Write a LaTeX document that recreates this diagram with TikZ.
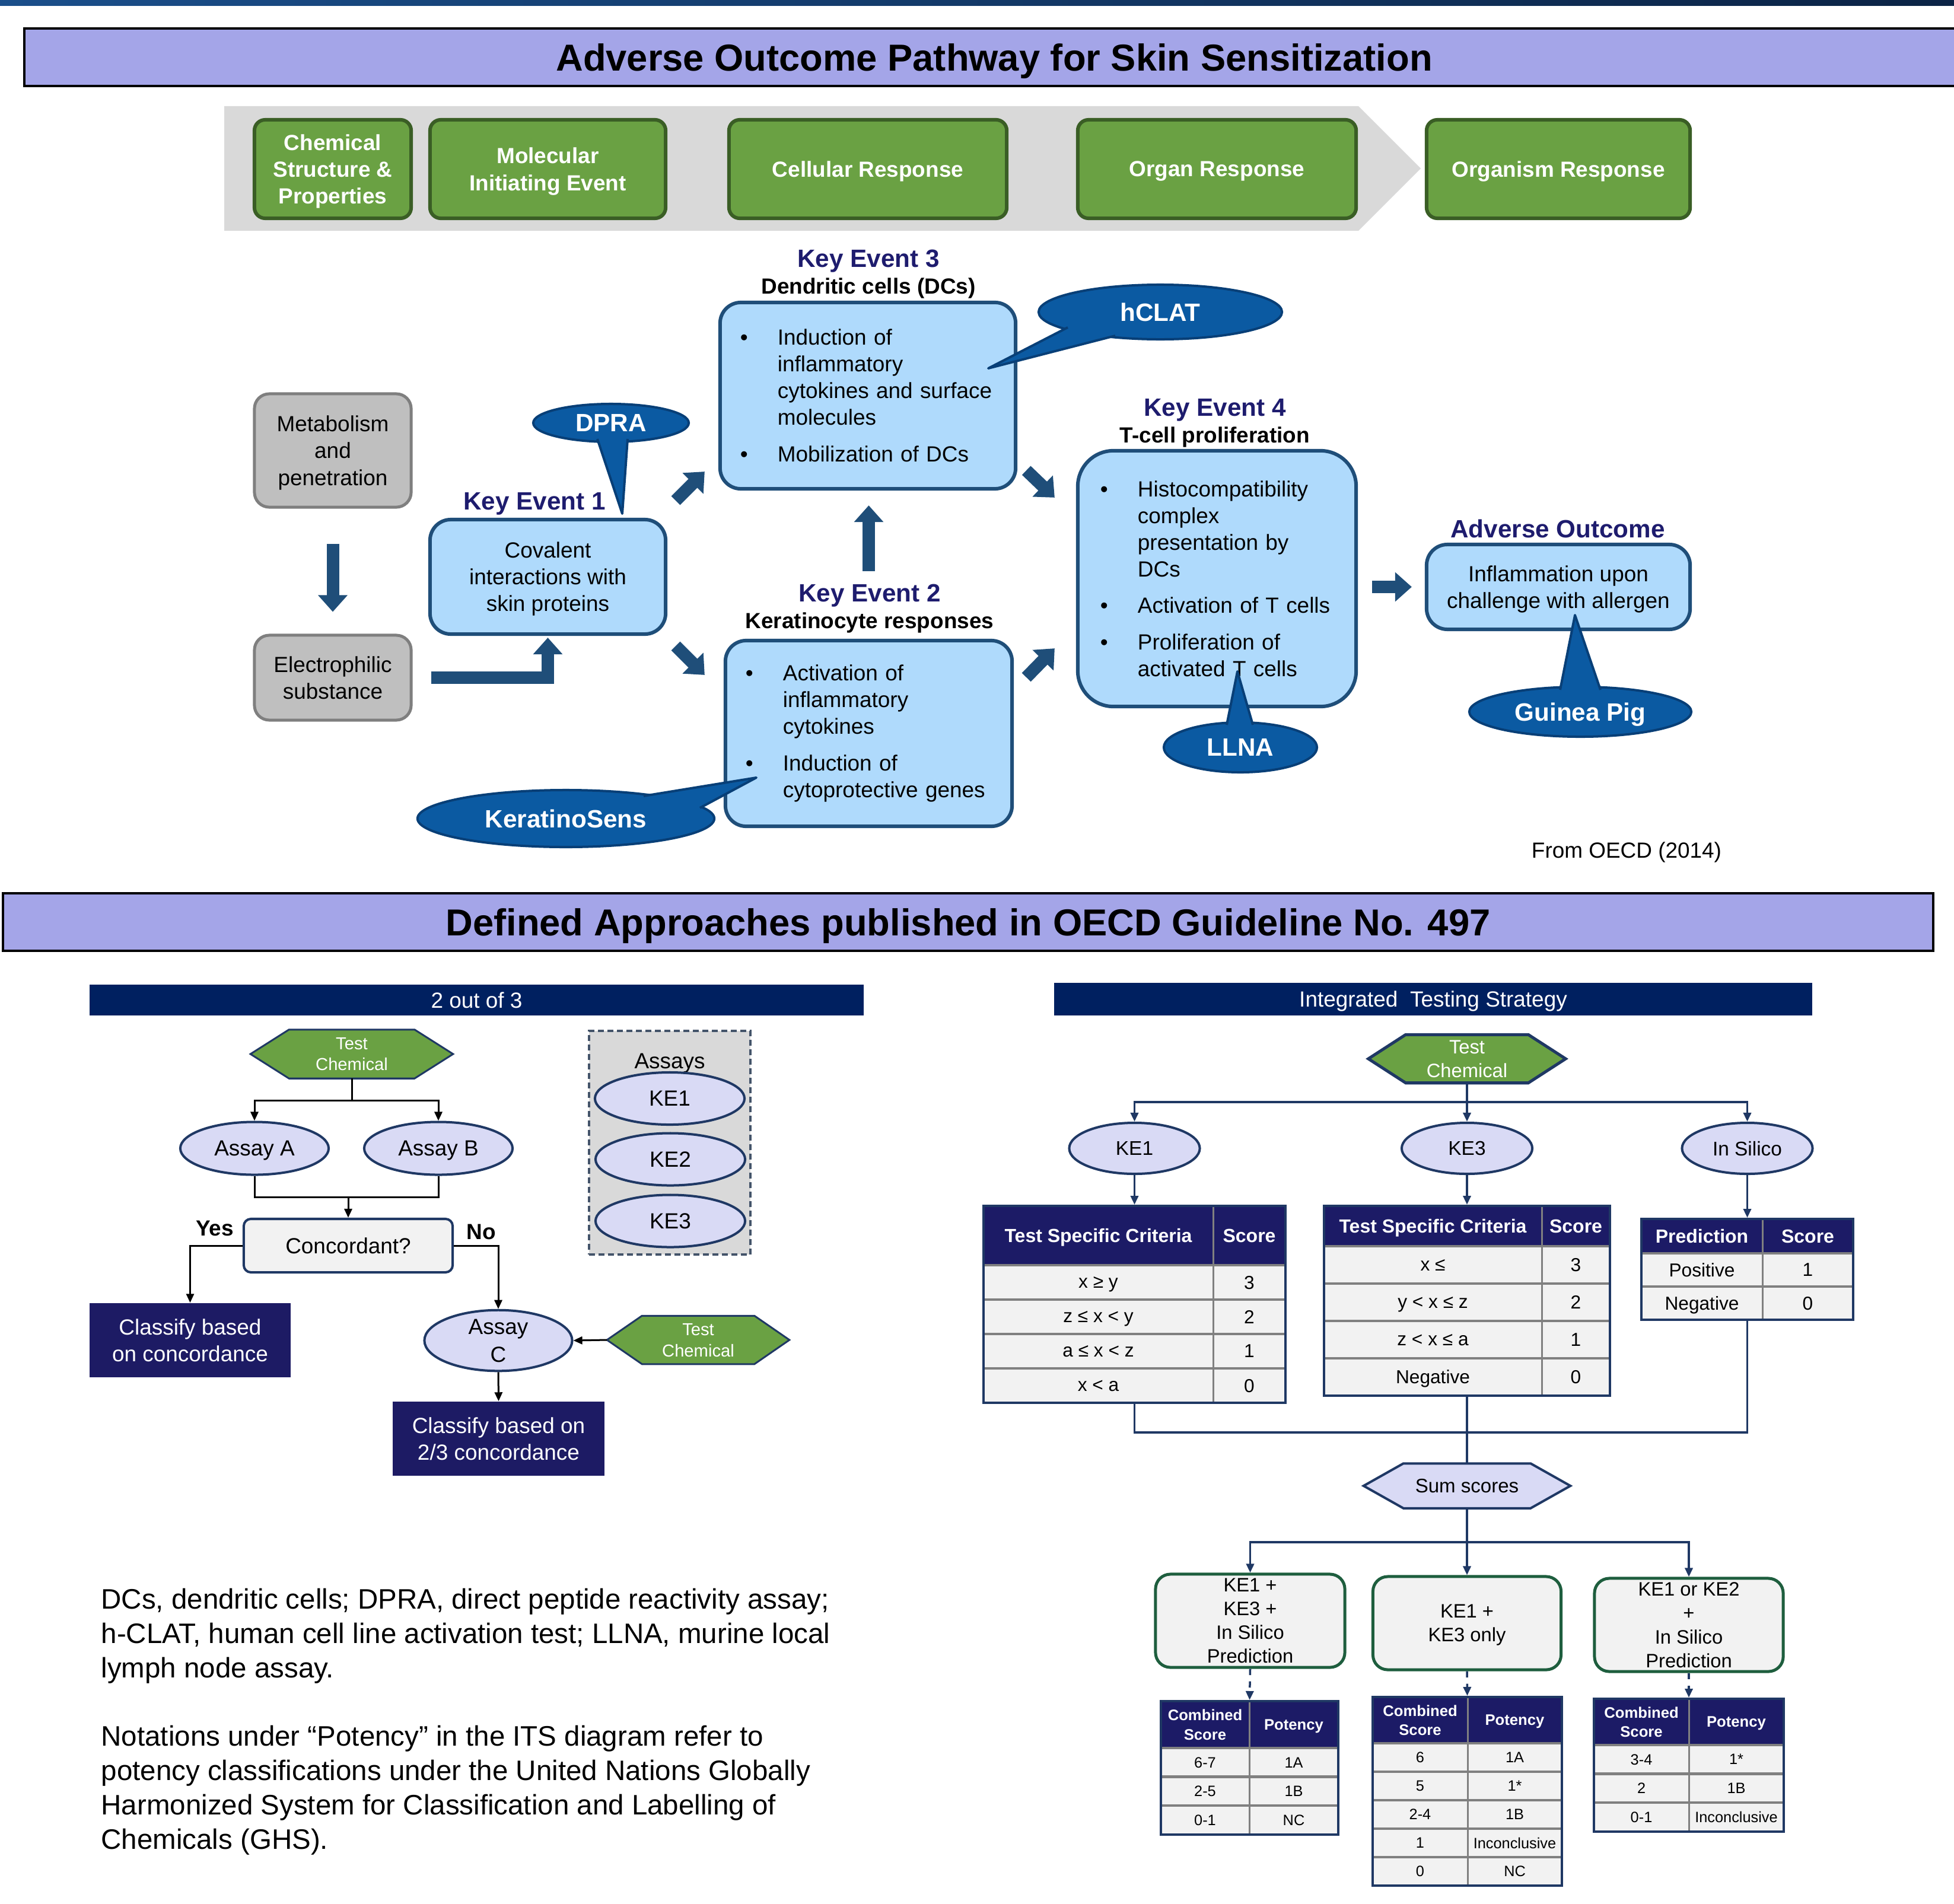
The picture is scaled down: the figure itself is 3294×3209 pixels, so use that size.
\documentclass[tikz,border=0pt]{standalone}
\usepackage{fontspec}
\setmainfont{Liberation Sans}
\usetikzlibrary{shapes.geometric,arrows.meta,backgrounds,calc,fit}
\definecolor{bannerc}{HTML}{A4A5E8}
\definecolor{gfill}{HTML}{6AA143}
\definecolor{gdark}{HTML}{3A5E25}
\definecolor{chev}{HTML}{D9D9D9}
\definecolor{ggray}{HTML}{BFBFBF}
\definecolor{gborder}{HTML}{7F7F7F}
\definecolor{bfill}{HTML}{AFDAFC}
\definecolor{bborder}{HTML}{1F4E79}
\definecolor{ketext}{HTML}{1E1C6E}
\definecolor{barrowc}{HTML}{1F4E79}
\definecolor{cfill}{HTML}{0B5AA2}
\definecolor{cborder}{HTML}{083F77}
\definecolor{hdrnavy}{HTML}{002060}
\definecolor{clsc}{HTML}{1D1B64}
\definecolor{lav}{HTML}{D9DAF5}
\definecolor{navyline}{HTML}{1F3864}
\definecolor{rowgray}{HTML}{F2F2F2}
\definecolor{sepgray}{HTML}{808080}
\definecolor{theadc}{HTML}{1C1B66}
\definecolor{boxgreen}{HTML}{1E5E3E}
\definecolor{dashc}{HTML}{44546A}
\definecolor{stripL}{HTML}{1A4E8A}
\definecolor{stripR}{HTML}{0B2345}
\newcommand\mybul{\makebox[0.63cm][l]{\textbullet}}
\newcommand\myind{\hspace*{0.63cm}}
\newcommand\myhex[3]{\filldraw[#3] (#1.west) -- ($(#1.north west)+(#2,0)$) -- ($(#1.north east)+(-#2,0)$) -- (#1.east) -- ($(#1.south east)+(-#2,0)$) -- ($(#1.south west)+(#2,0)$) -- cycle;}
\newcommand\mytab[8]{%
  \fill[rowgray] (#2,#6) rectangle (#4,#7);
  \fill[theadc] (#2,#5) rectangle (#4,#6);
  \foreach \yy in {#8} \draw[sepgray, line width=0.045cm] (#2,\yy) -- (#4,\yy);
  \draw[sepgray, line width=0.03cm] (#3,#5) -- (#3,#7);
  \node[fit={(#2,#5) (#4,#7)}, inner sep=0pt, draw=navyline, line width=0.04cm] (#1) {};
}
\tikzset{
  every node/.append style={text depth=0pt},
  banner/.style={draw=black, line width=0.035cm, fill=bannerc, inner sep=0pt, font=\fontsize{18}{22}\selectfont\bfseries},
  gbox/.style={draw=gdark, line width=0.06cm, fill=gfill, rounded corners=0.18cm, text=white, font=\fontsize{10.5}{12.9}\selectfont\bfseries, align=center, inner sep=0pt, minimum height=1.66cm},
  graybox/.style={draw=gborder, line width=0.05cm, fill=ggray, rounded corners=0.25cm, align=center, inner sep=0pt, minimum width=2.64cm, font=\fontsize{10.5}{12.9}\selectfont},
  bbox/.style={draw=bborder, line width=0.06cm, fill=bfill, rounded corners=0.35cm, inner sep=0pt},
  ketitle/.style={text=ketext, font=\fontsize{12}{14}\selectfont\bfseries},
  kesub/.style={font=\fontsize{10.5}{12}\selectfont\bfseries},
  barrow/.style={draw=barrowc, line width=0.21cm, -{Triangle[length=0.28cm,width=0.48cm]}},
  callout/.style={ellipse, draw=cborder, line width=0.04cm, fill=cfill, text=white, font=\fontsize{12}{14}\selectfont\bfseries, inner sep=0pt},
  tail/.style={fill=cfill, draw=cborder, line width=0.04cm, line join=round},
  hdr/.style={fill=hdrnavy, text=white, inner sep=0pt, font=\fontsize{10.5}{12}\selectfont},
  lavell/.style={ellipse, fill=lav, draw=navyline, line width=0.04cm, inner sep=0pt},
  clsbox/.style={fill=clsc, text=white, inner sep=0pt, align=center, font=\fontsize{10.5}{13}\selectfont},
  bconn/.style={draw=black, line width=0.03cm, -{Triangle[length=0.15cm,width=0.13cm]}},
  bline/.style={draw=black, line width=0.03cm},
  nconn/.style={draw=navyline, line width=0.035cm, -{Triangle[length=0.15cm,width=0.13cm]}},
  nline/.style={draw=navyline, line width=0.035cm},
  th/.style={text=white, font=\fontsize{9.1}{11}\selectfont\bfseries, inner sep=0pt, align=center},
  td/.style={font=\fontsize{9}{11}\selectfont, inner sep=0pt},
  ph/.style={text=white, font=\fontsize{7.3}{9.2}\selectfont\bfseries, inner sep=0pt, align=center},
  pd/.style={font=\fontsize{7.2}{9}\selectfont, inner sep=0pt},
  itsbox/.style={draw=boxgreen, line width=0.05cm, fill=rowgray, rounded corners=0.25cm, align=center, inner sep=0pt, font=\fontsize{9.3}{11.4}\selectfont, minimum height=1.57cm},
}
\begin{document}
\begin{tikzpicture}[x=0.01cm,y=-0.01cm, font=\fontsize{10.5}{12.8}\selectfont]
\useasboundingbox (0,0) rectangle (3294,3209);
\begin{scope}[on background layer]
  \fill[white] (0,0) rectangle (3294,3209);
\end{scope}
% top strip
\shade[left color=stripL, right color=stripR] (0,0) rectangle (3294,10);
% title banner 1
\node[banner, minimum width=32.68cm, minimum height=0.97cm] (title1) at (1676,96.5) {Adverse Outcome Pathway for Skin Sensitization};
% chevron band
\fill[chev] (378,179) -- (2290,179) -- (2395,284) -- (2290,389) -- (378,389) -- cycle;
\node[gbox, minimum width=2.64cm] (g1) at (561,285) {Chemical\\Structure \&\\Properties};
\node[gbox, minimum width=3.97cm] (g2) at (923.5,285) {Molecular\\Initiating Event};
\node[gbox, minimum width=4.68cm] (g3) at (1463,285) {Cellular Response};
\node[gbox, minimum width=4.69cm] (g4) at (2051.5,285) {Organ Response};
\node[gbox, minimum width=4.44cm] (g5) at (2627,285) {Organism Response};
% gray boxes
\node[graybox, minimum height=1.91cm] (meta) at (561,759.5) {Metabolism\\and\\penetration};
\node[graybox, minimum height=1.43cm] (elec) at (561,1142.5) {Electrophilic\\substance};
% blue boxes
\node[bbox, minimum width=3.97cm, minimum height=1.93cm, align=center] (ke1) at (923.5,972.5) {Covalent\\interactions with\\skin proteins};
\node[bbox, minimum width=4.98cm, minimum height=3.14cm, align=left, text width=4.30cm, text depth={}] (ke3) at (1463,667) {\mybul Induction of\\\myind inflammatory\\\myind cytokines and surface\\\myind molecules\\[4.7pt]\mybul Mobilization of DCs};
\node[bbox, minimum width=4.83cm, minimum height=3.13cm, align=left, text width=4.15cm, text depth={}] (ke2) at (1464.5,1236.5) {\mybul Activation of\\\myind inflammatory\\\myind cytokines\\[4.7pt]\mybul Induction of\\\myind cytoprotective genes};
\node[bbox, rounded corners=0.6cm, minimum width=4.69cm, minimum height=4.31cm, align=left, text width=3.93cm, text depth={}] (ke4) at (2051.5,975.5) {\mybul Histocompatibility\\\myind complex\\\myind presentation by\\\myind DCs\\[4.7pt]\mybul Activation of T cells\\[4.7pt]\mybul Proliferation of\\\myind activated T cells};
\node[bbox, minimum width=4.44cm, minimum height=1.43cm, align=center] (ao) at (2627,989.5) {Inflammation upon\\challenge with allergen};
% titles
\node[ketitle] (ke1t) at (901,845) {Key Event 1};
\node[ketitle] (ke3t) at (1464,436) {Key Event 3};
\node[kesub] (ke3s) at (1464,482) {Dendritic cells (DCs)};
\node[ketitle] (ke2t) at (1466,1000) {Key Event 2};
\node[kesub] (ke2s) at (1466,1046) {Keratinocyte responses};
\node[ketitle] (ke4t) at (2048,687) {Key Event 4};
\node[kesub] (ke4s) at (2048,733) {T-cell proliferation};
\node[ketitle] (aot) at (2626,891) {Adverse Outcome};
% block arrows
\draw[barrow] ($(meta.south)+(0,59)$) -- ($(elec.north)+(0,-37)$);
\draw[barrow] ($(elec.east)+(31,0)$) -| ($(ke1.south)+(0,3)$);
\draw[barrow] ($(ke1.north east)+(14,-29)$) -- ($(ke3.south west)+(-23,-32)$);
\draw[barrow] ($(ke1.south east)+(14,17)$) -- ($(ke2.north west)+(-32,61)$);
\draw[barrow] ($(ke3.south east)+(15,-34)$) -- ($(ke4.north west)+(-36,82)$);
\draw[barrow] ($(ke2.north east)+(21,65)$) -- ($(ke4.south west)+(-36,-101)$);
\draw[barrow] ($(ke2.north)+(0,-114)$) -- ($(ke3.south)+(1.5,25)$);
\draw[barrow] ($(ke4.east |- ao.west)+(24,0)$) -- ($(ao.west)+(-22,0)$);
% callouts
\node[callout, minimum width=2.62cm, minimum height=0.64cm] (dpra) at (1030,713) {DPRA};
\path[tail] (1007,740) -- (1049,866) -- (1058,740);
\node[callout, minimum width=4.10cm, minimum height=0.92cm] (hclat) at (1956,526) {hCLAT};
\path[tail] (1800,552) -- (1666,621) -- (1880,566);
\node[callout, minimum width=5.00cm, minimum height=0.96cm] (ksens) at (954,1380) {KeratinoSens};
\path[tail] (1085,1342) -- (1275,1311) -- (1180,1362);
\node[callout, minimum width=2.58cm, minimum height=0.84cm] (llna) at (2091,1260) {LLNA};
\path[tail] (2068,1222) -- (2086,1132) -- (2112,1222);
\node[callout, minimum width=3.74cm, minimum height=0.84cm] (gpig) at (2664,1200) {Guinea Pig};
\path[tail] (2630,1163) -- (2655,1037) -- (2698,1163);
\node (src) at (2742,1433) {From OECD (2014)};
% title banner 2
\node[banner, minimum width=32.52cm, minimum height=0.97cm] (title2) at (1632,1554.5) {Defined Approaches published in OECD Guideline No. 497};
% ---------- 2 out of 3
\node[hdr, minimum width=13.05cm, minimum height=0.52cm] (h2of3) at (803.5,1686) {2 out of 3};
\node[inner sep=0pt, minimum width=3.40cm, minimum height=0.81cm, text=white, align=center, font=\fontsize{8.3}{10.2}\selectfont] (tc1) at (593,1777) {Test\\Chemical};
\node[inner sep=0pt, minimum width=3.06cm, minimum height=0.80cm, text=white, align=center, font=\fontsize{8.3}{10.2}\selectfont] (tc2) at (1177,2259) {Test\\Chemical};
\node[lavell, minimum width=2.50cm, minimum height=0.89cm] (assayA) at (429,1936) {Assay A};
\node[lavell, minimum width=2.50cm, minimum height=0.89cm] (assayB) at (739,1936) {Assay B};
\node[draw=navyline, line width=0.04cm, fill=rowgray, rounded corners=0.12cm, minimum width=3.52cm, minimum height=0.90cm, inner sep=0pt] (conc) at (587,2100) {Concordant?};
\node[lavell, minimum width=2.49cm, minimum height=0.90cm, align=center, font=\fontsize{10.5}{13.4}\selectfont] (assayC) at (840,2260) {Assay\\C};
\node[clsbox, minimum width=3.39cm, minimum height=1.25cm] (cls1) at (320.5,2259.5) {Classify based\\on concordance};
\node[clsbox, minimum width=3.57cm, minimum height=1.25cm] (cls2) at (840.5,2425.5) {Classify based on\\2/3 concordance};
\node[draw=dashc, dash pattern=on 0.1cm off 0.06cm, line width=0.035cm, fill=chev, minimum width=2.72cm, minimum height=3.77cm, inner sep=0pt] (assays) at (1129,1926.5) {};
\node (assayslbl) at (1129,1789) {Assays};
\node[lavell, minimum width=2.52cm, minimum height=0.88cm] (aKE1) at (1129,1852) {KE1};
\node[lavell, minimum width=2.52cm, minimum height=0.88cm] (aKE2) at (1130,1954.5) {KE2};
\node[lavell, minimum width=2.52cm, minimum height=0.88cm] (aKE3) at (1130,2058.5) {KE3};
\coordinate (j0) at (593,1855);
\coordinate (j1) at (587,2018);
\draw[bline] (tc1.south) -- (j0);
\draw[bconn] (j0) -| (assayA.north);
\draw[bconn] (j0) -| (assayB.north);
\draw[bline] (assayA.south) |- (j1) -| (assayB.south);
\draw[bconn] (j1) -- (conc.north);
\draw[bconn] (conc.west) -| (cls1.north);
\draw[bconn] (conc.east) -| (assayC.north);
\draw[bconn] (tc2.west) -- (assayC.east);
\draw[bconn] (assayC.south) -- (cls2.north);
\node[font=\fontsize{10.5}{12}\selectfont\bfseries] (yes) at (362,2071) {Yes};
\node[font=\fontsize{10.5}{12}\selectfont\bfseries] (no) at (811,2077) {No};
% ---------- ITS
\node[hdr, minimum width=12.78cm, minimum height=0.55cm] (hits) at (2416,1684.5) {Integrated\ \ Testing Strategy};
\node[inner sep=0pt, minimum width=3.31cm, minimum height=0.80cm, text=white, align=center, font=\fontsize{9.3}{11.4}\selectfont] (itstc) at (2473,1785) {Test\\Chemical};
\node[lavell, minimum width=2.20cm, minimum height=0.86cm, font=\fontsize{9.5}{11}\selectfont] (ke1i) at (1912.5,1936) {KE1};
\node[lavell, minimum width=2.20cm, minimum height=0.86cm, font=\fontsize{9.5}{11}\selectfont] (ke3i) at (2473,1936) {KE3};
\node[lavell, minimum width=2.20cm, minimum height=0.86cm, font=\fontsize{9.5}{11}\selectfont] (insil) at (2945.5,1936) {In Silico};
% tables
\mytab{tab1}{1658}{2045}{2167}{2033}{2133}{2365}{2133,2191,2249,2307}
\node[th] (t1h1) at (1851.5,2083) {Test Specific Criteria};
\node[th] (t1h2) at (2106,2083) {Score};
\foreach \c/\s [count=\i] in {{x ≥ y}/3, {z ≤ x < y}/2, {a ≤ x < z}/1, {x < a}/0} {
  \node[td] (t1a\i) at (1851.5,{2133+58*(\i-0.5)}) {\c};
  \node[td] (t1b\i) at (2106,{2133+58*(\i-0.5)}) {\s};
}
\mytab{tab2}{2232}{2599}{2714}{2033}{2101}{2353}{2101,2164,2227,2290}
\node[th] (t2h1) at (2415.5,2067) {Test Specific Criteria};
\node[th] (t2h2) at (2656.5,2067) {Score};
\foreach \c/\s [count=\i] in {{x ≤}/3, {y < x ≤ z}/2, {z < x ≤ a}/1, {Negative}/0} {
  \node[td] (t2a\i) at (2415.5,{2101+63*(\i-0.5)}) {\c};
  \node[td] (t2b\i) at (2656.5,{2101+63*(\i-0.5)}) {\s};
}
\mytab{tab3}{2767}{2971}{3124}{2055}{2113}{2225}{2113,2169}
\node[th] (t3h1) at (2869,2084) {Prediction};
\node[th] (t3h2) at (3047.5,2084) {Score};
\foreach \c/\s [count=\i] in {Positive/1, Negative/0} {
  \node[td] (t3a\i) at (2869,{2113+56*(\i-0.5)}) {\c};
  \node[td] (t3b\i) at (3047.5,{2113+56*(\i-0.5)}) {\s};
}
\node[inner sep=0pt, minimum width=3.47cm, minimum height=0.74cm, font=\fontsize{9.4}{11}\selectfont] (sum) at (2473,2505) {Sum scores};
\coordinate (k0) at (2473,1858);
\coordinate (k1) at (2473,2415);
\coordinate (k2) at (2473,2600);
\draw[nline] (itstc.south) -- (k0);
\draw[nconn] (k0) -| (ke1i.north);
\draw[nconn] (k0) -- (ke3i.north);
\draw[nconn] (k0) -| (insil.north);
\draw[nconn] (ke1i.south) -- (tab1.north);
\draw[nconn] (ke3i.south) -- (tab2.north);
\draw[nconn] (insil.south) -- (tab3.north);
\draw[nline] (tab1.south) |- (k1);
\draw[nline] (tab3.south) |- (k1);
\draw[nline] (tab2.south) -- (sum.north);
\node[itsbox, minimum width=3.19cm] (box1) at (2107.5,2732.5) {KE1 +\\KE3 +\\In Silico\\Prediction};
\node[itsbox, minimum width=3.17cm] (box2) at (2473,2736.5) {KE1 +\\KE3 only};
\node[itsbox, minimum width=3.18cm] (box3) at (2847,2739.5) {KE1 or KE2\\+\\In Silico\\Prediction};
\draw[nline] (sum.south) -- (k2);
\draw[nconn] (k2) -| (box1.north);
\draw[nconn] (k2) -- (box2.north);
\draw[nconn] (k2) -| (box3.north);
% potency tables
\mytab{pot1}{1957}{2106}{2256}{2868}{2947}{3092.5}{2947,2995.5,3044}
\node[ph] (p1h1) at (2031.5,2907.5) {Combined\\Score};
\node[ph] (p1h2) at (2181,2907.5) {Potency};
\foreach \c/\s [count=\i] in {6-7/1A, 2-5/1B, 0-1/NC} {
  \node[pd] (p1a\i) at (2031.5,{2947+48.5*(\i-0.5)}) {\c};
  \node[pd] (p1b\i) at (2181,{2947+48.5*(\i-0.5)}) {\s};
}
\mytab{pot2}{2314}{2474}{2633}{2861}{2939}{3179}{2939,2987,3035,3083,3131}
\node[ph] (p2h1) at (2394,2900) {Combined\\Score};
\node[ph] (p2h2) at (2553.5,2900) {Potency};
\foreach \c/\s [count=\i] in {6/1A, 5/1*, 2-4/1B, 1/Inconclusive, 0/NC} {
  \node[pd] (p2a\i) at (2394,{2939+48*(\i-0.5)}) {\c};
  \node[pd] (p2b\i) at (2553.5,{2939+48*(\i-0.5)}) {\s};
}
\mytab{pot3}{2687}{2847}{3007}{2864}{2942}{3087.5}{2942,2990.5,3039}
\node[ph] (p3h1) at (2767,2903) {Combined\\Score};
\node[ph] (p3h2) at (2927,2903) {Potency};
\foreach \c/\s [count=\i] in {3-4/1*, 2/1B, 0-1/Inconclusive} {
  \node[pd] (p3a\i) at (2767,{2942+48.5*(\i-0.5)}) {\c};
  \node[pd] (p3b\i) at (2927,{2942+48.5*(\i-0.5)}) {\s};
}
\draw[nconn, dashed] (box1.south) -- (pot1.north);
\draw[nconn, dashed] (box2.south) -- (pot2.north);
\draw[nconn, dashed] (box3.south) -- (pot3.north);
% hexagons on background
\begin{scope}[on background layer]
  \myhex{tc1}{65}{fill=gfill, draw=navyline, line width=0.03cm}
  \myhex{tc2}{59}{fill=gfill, draw=navyline, line width=0.03cm}
  \myhex{itstc}{63}{fill=gfill, draw=navyline, line width=0.05cm}
  \myhex{sum}{67}{fill=lav, draw=navyline, line width=0.04cm}
\end{scope}
% footnotes
\node[anchor=north west, align=left, inner sep=0pt, font=\fontsize{13.5}{16.5}\selectfont] (note1) at (170,2677) {DCs, dendritic cells; DPRA, direct peptide reactivity assay;\\h-CLAT, human cell line activation test; LLNA, murine local\\lymph node assay.};
\node[anchor=north west, align=left, inner sep=0pt, font=\fontsize{13.5}{16.5}\selectfont] (note2) at (170,2908) {Notations under “Potency” in the ITS diagram refer to\\potency classifications under the United Nations Globally\\Harmonized System for Classification and Labelling of\\Chemicals (GHS).};
\end{tikzpicture}
\end{document}
